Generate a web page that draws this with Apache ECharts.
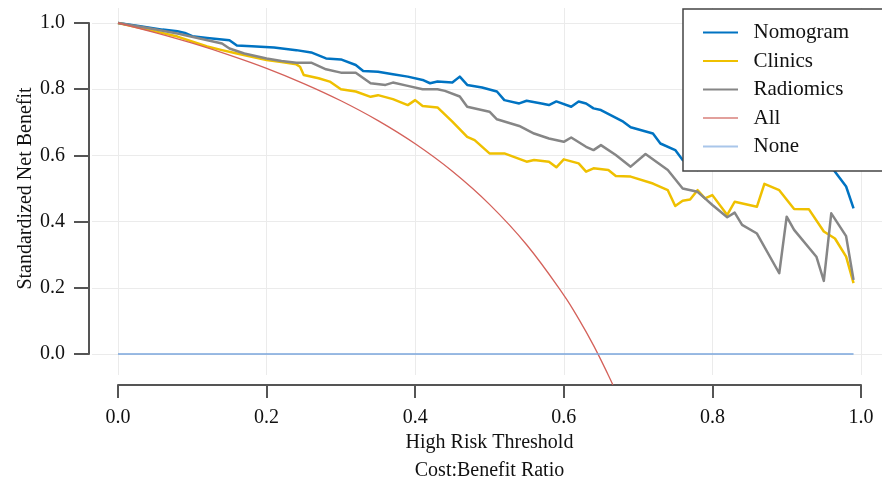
<!DOCTYPE html>
<html><head><meta charset="utf-8">
<script src="https://cdn.jsdelivr.net/npm/echarts@6/dist/echarts.min.js"></script>
<style>html,body{margin:0;padding:0;background:#fff}#c{width:882px;height:485px}</style>
</head><body><div id="c"></div>
<script>
const xTicks = [0, 0.2, 0.4, 0.6, 0.8, 1.0];
const yTicks = [0, 0.2, 0.4, 0.6, 0.8, 1.0];
const seriesNames = ['Nomogram', 'Clinics', 'Radiomics', 'All', 'None'];

const nomoX = [0,0.03,0.06,0.08,0.09,0.10,0.12,0.14,0.15,0.16,0.18,0.21,0.24,0.26,0.28,0.30,0.32,0.33,0.35,0.37,0.39,0.41,0.42,0.43,0.45,0.46,0.47,0.49,0.51,0.52,0.54,0.55,0.57,0.58,0.59,0.61,0.62,0.63,0.64,0.65,0.68,0.69,0.72,0.73,0.75,0.76,0.78,0.80,0.83,0.86,0.89,0.92,0.95,0.96,0.98,0.99];
const nomoY = [1.0,0.99,0.98,0.975,0.97,0.96,0.955,0.95,0.948,0.932,0.93,0.926,0.918,0.911,0.893,0.89,0.873,0.855,0.853,0.845,0.838,0.828,0.818,0.823,0.82,0.838,0.813,0.805,0.793,0.767,0.757,0.765,0.757,0.752,0.763,0.747,0.763,0.757,0.742,0.737,0.702,0.685,0.666,0.636,0.616,0.586,0.556,0.59,0.61,0.62,0.62,0.61,0.59,0.566,0.506,0.44];

const clinX = [0,0.04,0.08,0.12,0.14,0.16,0.20,0.22,0.24,0.245,0.25,0.27,0.285,0.30,0.32,0.34,0.35,0.37,0.39,0.40,0.41,0.43,0.45,0.47,0.48,0.50,0.52,0.55,0.56,0.58,0.59,0.60,0.62,0.63,0.64,0.66,0.67,0.69,0.72,0.74,0.75,0.76,0.77,0.78,0.79,0.80,0.82,0.83,0.86,0.87,0.89,0.91,0.93,0.95,0.965,0.98,0.99];
const clinY = [1.0,0.98,0.959,0.929,0.918,0.908,0.888,0.882,0.875,0.868,0.843,0.833,0.823,0.80,0.793,0.777,0.782,0.77,0.752,0.767,0.749,0.745,0.702,0.656,0.646,0.606,0.606,0.581,0.586,0.581,0.564,0.588,0.576,0.551,0.561,0.556,0.538,0.536,0.515,0.495,0.447,0.463,0.467,0.495,0.47,0.48,0.42,0.46,0.445,0.514,0.495,0.438,0.437,0.37,0.349,0.294,0.214];

const radX = [0,0.04,0.08,0.11,0.14,0.15,0.17,0.20,0.22,0.24,0.26,0.28,0.30,0.32,0.34,0.36,0.37,0.39,0.41,0.43,0.44,0.46,0.47,0.50,0.51,0.54,0.56,0.58,0.60,0.61,0.63,0.64,0.65,0.67,0.69,0.71,0.74,0.76,0.78,0.79,0.80,0.82,0.83,0.84,0.86,0.89,0.90,0.91,0.94,0.95,0.96,0.98,0.99];
const radY = [1.0,0.985,0.968,0.953,0.938,0.923,0.908,0.893,0.885,0.88,0.88,0.86,0.85,0.85,0.818,0.813,0.82,0.81,0.80,0.80,0.795,0.778,0.747,0.732,0.709,0.689,0.666,0.651,0.641,0.654,0.626,0.616,0.631,0.601,0.566,0.604,0.556,0.50,0.49,0.47,0.45,0.413,0.427,0.39,0.364,0.244,0.415,0.375,0.294,0.221,0.425,0.356,0.224];

const allX = [0,0.05,0.10,0.15,0.20,0.25,0.30,0.35,0.40,0.45,0.50,0.55,0.60,0.62,0.64,0.66,0.666];
const allY = [1.0,0.971,0.939,0.903,0.863,0.817,0.765,0.705,0.635,0.552,0.452,0.330,0.178,0.106,0.026,-0.064,-0.093];

const noneX = [0, 0.99];
const noneY = [0, 0];

const zip = (xs, ys) => xs.map((x, i) => [x, ys[i]]);
const FONT = 'Liberation Serif';
const colors = ['#0073C2', '#EFC000', '#868686', '#CD534C', '#7AA6DC'];
const legendColors = ['#0073C2', '#EFC000', '#868686', '#E2A09C', '#A9C6EA'];

const chart = echarts.init(document.getElementById('c'), null, {renderer: 'canvas'});

const gridLineStyle = {color: '#ebebeb', width: 1, type: 'solid'};
const gridMarks = xTicks.map(v => ({xAxis: v})).concat(yTicks.map(v => ({yAxis: v})));

const lineSeries = (name, data, color, width, z, extra) => Object.assign({
  name, type: 'line', data, xAxisIndex: 0, yAxisIndex: 0,
  showSymbol: false, symbol: 'none', z,
  lineStyle: {color, width, join: 'round'}, itemStyle: {color},
  emphasis: {disabled: true}, animation: false
}, extra || {});

chart.setOption({
  animation: false,
  color: colors,
  grid: [
    {left: 92, right: 0, top: 8, bottom: 110, containLabel: false, outerBoundsMode: 'none'},
    {left: 89, top: 23, height: 331, width: 10, containLabel: false, outerBoundsMode: 'none'},
    {left: 118, width: 743, top: 375, height: 10, containLabel: false, outerBoundsMode: 'none'}
  ],
  xAxis: [
    {gridIndex: 0, type: 'value', min: -0.035, max: 1.0283, show: false},
    {gridIndex: 1, type: 'value', min: 0, max: 1, show: false},
    {gridIndex: 2, type: 'value', min: 0, max: 1, interval: 0.2, position: 'bottom',
     axisLine: {show: true, lineStyle: {color: '#555', width: 2}},
     axisTick: {show: true, length: 13, lineStyle: {color: '#555', width: 2}},
     axisLabel: {show: true, margin: 23, fontFamily: FONT, fontSize: 20, color: '#111',
                 formatter: v => v.toFixed(1)},
     splitLine: {show: false},
     name: 'High Risk Threshold\nCost:Benefit Ratio', nameLocation: 'middle', nameGap: 44,
     nameTextStyle: {fontFamily: FONT, fontSize: 20, color: '#111', lineHeight: 28}}
  ],
  yAxis: [
    {gridIndex: 0, type: 'value', min: -0.0634, max: 1.0453, show: false},
    {gridIndex: 1, type: 'value', min: 0, max: 1, interval: 0.2, position: 'left',
     axisLine: {show: true, lineStyle: {color: '#555', width: 2}},
     axisTick: {show: true, length: 15, lineStyle: {color: '#555', width: 2}},
     axisLabel: {show: true, margin: 24, fontFamily: FONT, fontSize: 20, color: '#111',
                 formatter: v => v.toFixed(1)},
     splitLine: {show: false},
     name: 'Standardized Net Benefit', nameLocation: 'middle', nameGap: 52,
     nameTextStyle: {fontFamily: FONT, fontSize: 20, color: '#111'}},
    {gridIndex: 2, type: 'value', min: 0, max: 1, show: false}
  ],
  legend: {
    orient: 'vertical', left: 683, top: 9, z: 50,
    padding: [13, 70, 14, 20], itemGap: 7.5,
    itemWidth: 35, itemHeight: 2, icon: 'rect',
    backgroundColor: '#fff', borderColor: '#444', borderWidth: 1.5, borderRadius: 0,
    textStyle: {fontFamily: FONT, fontSize: 21, color: '#111', lineHeight: 20},
    formatter: n => '\u2002' + n,
    data: seriesNames.map((n, i) => ({name: n, itemStyle: {color: legendColors[i]}})),
    selectedMode: false
  },
  series: [
    {name: 'gridlines', type: 'line', data: [], xAxisIndex: 0, yAxisIndex: 0, z: 0, silent: true,
     markLine: {silent: true, z: 0, symbol: ['none', 'none'], label: {show: false},
                lineStyle: gridLineStyle, emphasis: {disabled: true}, data: gridMarks, animation: false}},
    lineSeries('Nomogram', zip(nomoX, nomoY), colors[0], 2.5, 3),
    lineSeries('Clinics', zip(clinX, clinY), colors[1], 2.5, 4),
    lineSeries('Radiomics', zip(radX, radY), colors[2], 2.5, 5),
    lineSeries('All', zip(allX, allY), '#D4615A', 1.3, 6, {smooth: 0.4, clip: false}),
    lineSeries('None', zip(noneX, noneY), colors[4], 1.3, 7)
  ]
});
</script>
</body></html>
